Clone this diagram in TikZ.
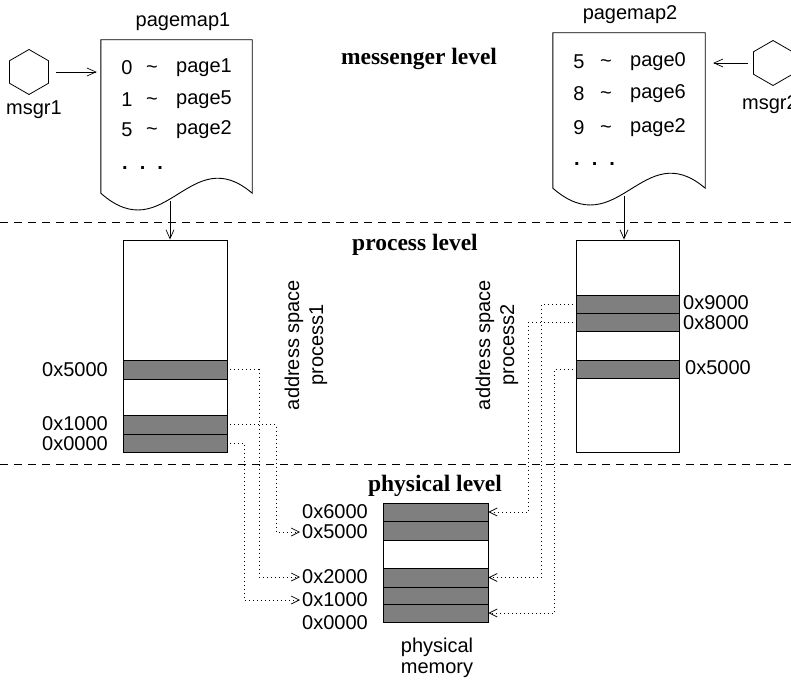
\documentclass[tikz,border=0pt]{standalone}
\usepackage{fontspec}
\setmainfont{Liberation Sans}
\newfontfamily\lvlfont{Liberation Serif}
\usetikzlibrary{arrows.meta,shapes.geometric,calc}
\definecolor{bandgray}{HTML}{7F7F7F}
\begin{document}
\begin{tikzpicture}[x=1pt,y=-1pt,
  txt/.style={font=\fontsize{20}{22}\selectfont, inner sep=0pt},
  lvl/.style={font=\lvlfont\bfseries\fontsize{23.5}{26}\selectfont, inner sep=0pt},
  arr/.style={draw, line width=0.7pt, -{Straight Barb[length=9pt,width=8pt]}},
  dotarr/.style={draw, line width=0.9pt, dash pattern=on 1pt off 3pt,
    -{Straight Barb[length=8pt,width=8pt,line width=0.7pt]}},
  levelline/.style={draw, line width=0.8pt, dash pattern=on 8pt off 6pt},
  membox/.style={draw, line width=0.9pt, fill=white, inner sep=0pt},
  band/.style={draw, line width=0.9pt, fill=bandgray, inner sep=0pt},
  hexa/.style={draw, line width=0.8pt, regular polygon, regular polygon sides=6,
    shape border rotate=30, minimum size=45pt, inner sep=0pt},
  docshape/.style={draw, line width=0.9pt, fill=white}
]
\useasboundingbox (0,0) rectangle (791,682);

% level separators
\draw[levelline] (0,222) -- (791,222);
\draw[levelline] (0,464) -- (791,464);

% level labels
\node[lvl] (lmsg) at (419,59) {messenger level};
\node[lvl] (lproc) at (415,245) {process level};
\node[lvl] (lphys) at (435,486) {physical level};

% ---------- pagemap1 ----------
\node[inner sep=0pt, minimum width=151pt, minimum height=153pt] (pg1) at (176.5,116.5) {};
\draw[docshape] (pg1.south west) -- (pg1.north west) -- (pg1.north east) -- (pg1.south east)
   .. controls (190,140) and (165,250) .. (pg1.south west) -- cycle;
\node[txt] (pg1t) at (183,22) {pagemap1};
\node[txt] (r11a) at (127,68) {0};
\node[txt] (r11b) at (152,70) {\textasciitilde};
\node[txt, anchor=west] (r11c) at (176,68) {page1};
\node[txt] (r12a) at (127,100) {1};
\node[txt] (r12b) at (152,102) {\textasciitilde};
\node[txt, anchor=west] (r12c) at (176,100) {page5};
\node[txt] (r13a) at (127,130) {5};
\node[txt] (r13b) at (152,132) {\textasciitilde};
\node[txt, anchor=west] (r13c) at (176,130) {page2};
\node[txt, anchor=base west, font=\bfseries\fontsize{20}{22}\selectfont] (r14) at (122,169) {.\hspace{12pt}.\hspace{12pt}.};

% msgr1
\node[hexa] (h1) at (29,72) {};
\node[txt] (h1l) at (34,110) {msgr1};
\draw[arr, shorten <=7pt, shorten >=4pt] (h1.east) -- (h1.east -| pg1.west);

% ---------- pagemap2 ----------
\node[inner sep=0pt, minimum width=152pt, minimum height=155pt] (pg2) at (629,110.5) {};
\draw[docshape] (pg2.south west) -- (pg2.north west) -- (pg2.north east) -- (pg2.south east)
   .. controls (643,135) and (618,245) .. (pg2.south west) -- cycle;
\node[txt] (pg2t) at (630,15) {pagemap2};
\node[txt] (r21a) at (579,62) {5};
\node[txt] (r21b) at (606,64) {\textasciitilde};
\node[txt, anchor=west] (r21c) at (630,62) {page0};
\node[txt] (r22a) at (579,94) {8};
\node[txt] (r22b) at (606,96) {\textasciitilde};
\node[txt, anchor=west] (r22c) at (630,94) {page6};
\node[txt] (r23a) at (579,128) {9};
\node[txt] (r23b) at (606,130) {\textasciitilde};
\node[txt, anchor=west] (r23c) at (630,128) {page2};
\node[txt, anchor=base west, font=\bfseries\fontsize{20}{22}\selectfont] (r24) at (574,165) {.\hspace{12pt}.\hspace{12pt}.};

% msgr2
\node[hexa] (h2) at (773,63) {};
\node[txt, anchor=west] (h2l) at (742,105) {msgr2};
\draw[arr, shorten <=5pt, shorten >=8pt] (h2.west) -- (h2.west -| pg2.east);

% ---------- process1 ----------
\node[membox, minimum width=104pt, minimum height=212pt] (p1) at (175,346) {};
\node[band, minimum width=104pt, minimum height=19pt] (p1b5) at (175,369.5) {};
\node[band, minimum width=104pt, minimum height=19pt] (p1b1) at (175,424.5) {};
\node[band, minimum width=104pt, minimum height=18pt] (p1b0) at (175,443) {};
\node[txt, anchor=east] (p1l5) at (108,370) {0x5000};
\node[txt, anchor=east] (p1l1) at (108,424) {0x1000};
\node[txt, anchor=east] (p1l0) at (108,444) {0x0000};
\node[txt, rotate=90, align=center, font=\fontsize{20}{24}\selectfont] (as1) at (306,345) {address space\\process1};
\coordinate (w1) at (170,201);
\draw[arr] (w1) -- (w1 |- p1.north);

% ---------- process2 ----------
\node[membox, minimum width=103pt, minimum height=212pt] (p2) at (627.5,346) {};
\node[band, minimum width=103pt, minimum height=18pt] (p2b9) at (627.5,304) {};
\node[band, minimum width=103pt, minimum height=18pt] (p2b8) at (627.5,322) {};
\node[band, minimum width=103pt, minimum height=18pt] (p2b5) at (627.5,369) {};
\node[txt, anchor=west] (p2l9) at (683,303) {0x9000};
\node[txt, anchor=west] (p2l8) at (683,323) {0x8000};
\node[txt, anchor=west] (p2l5) at (685,368) {0x5000};
\node[txt, rotate=90, align=center, font=\fontsize{20}{24}\selectfont] (as2) at (497,345) {address space\\process2};
\coordinate (w2) at (624,196);
\draw[arr] (w2) -- (w2 |- p2.north);

% ---------- physical memory ----------
\node[membox, minimum width=105pt, minimum height=119pt] (pm) at (435.5,562.5) {};
\node[band, minimum width=105pt, minimum height=18pt] (pm6) at (435.5,512) {};
\node[band, minimum width=105pt, minimum height=19pt] (pm5) at (435.5,530.5) {};
\node[band, minimum width=105pt, minimum height=19pt] (pm2) at (435.5,577.5) {};
\node[band, minimum width=105pt, minimum height=17pt] (pm1) at (435.5,595.5) {};
\node[band, minimum width=105pt, minimum height=18pt] (pm0) at (435.5,613) {};
\node[txt, anchor=east] (ml6) at (368,512) {0x6000};
\node[txt, anchor=east] (ml5) at (368,532) {0x5000};
\node[txt, anchor=east] (ml2) at (368,577) {0x2000};
\node[txt, anchor=east] (ml1) at (368,600) {0x1000};
\node[txt, anchor=east] (ml0) at (368,623) {0x0000};
\node[txt, align=center, font=\fontsize{20}{21}\selectfont] (pml) at (437,658) {physical\\memory};

% ---------- mappings ----------
\draw[dotarr, shorten <=3pt, shorten >=2pt] (p1b5.east) -- ++(32,0) |- (ml2.west);
\draw[dotarr, shorten <=3pt, shorten >=2pt] (p1b1.east) -- ++(49,0) |- (ml5.west);
\draw[dotarr, shorten <=3pt, shorten >=2pt] (p1b0.east) -- ++(17,0) |- (ml1.west);
\draw[dotarr, shorten <=3pt] (p2b9.west) -- ++(-34,0) |- (pm2.east);
\draw[dotarr, shorten <=3pt] (p2b8.west) -- ++(-47,0) |- (pm6.east);
\draw[dotarr, shorten <=3pt] (p2b5.west) -- ++(-21,0) |- (pm0.east);
\end{tikzpicture}
\end{document}
